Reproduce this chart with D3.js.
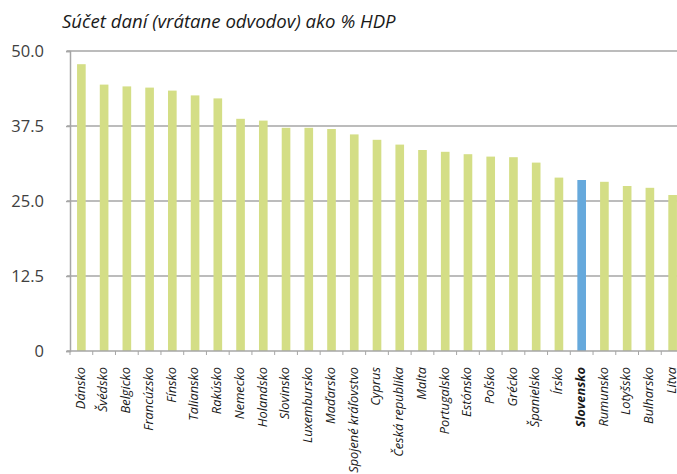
<!DOCTYPE html>
<html>
<head>
<meta charset="utf-8">
<script src="https://cdn.jsdelivr.net/npm/d3@7"></script>
<style>
  body { margin: 0; background: #fff; }
  svg { display: block; font-family: "Open Sans", sans-serif; }
</style>
</head>
<body>
<div id="chart"></div>
<script>
// Data
const countries = ["Dánsko", "Švédsko", "Belgicko", "Francúzsko", "Fínsko", "Taliansko", "Rakúsko",
    "Nemecko", "Holandsko", "Slovinsko", "Luxembursko", "Maďarsko", "Spojené kráľovstvo", "Cyprus",
    "Česká republika", "Malta", "Portugalsko", "Estónsko", "Poľsko", "Grécko", "Španielsko", "Írsko",
    "Slovensko", "Rumunsko", "Lotyšsko", "Bulharsko", "Litva"];
const values = [47.8, 44.4, 44.1, 43.9, 43.4, 42.6, 42.1, 38.7, 38.4, 37.2, 37.2, 37.0, 36.1, 35.2,
    34.4, 33.5, 33.2, 32.8, 32.4, 32.3, 31.4, 28.9, 28.5, 28.2, 27.5, 27.2, 26.0];
const highlight = "Slovensko";
const yTicks = [0, 12.5, 25, 37.5, 50];
const title = "Súčet daní (vrátane odvodov) ako % HDP";

const data = countries.map((c, i) => ({country: c, value: values[i]}));

// Margin convention
const margin = {top: 51, left: 70, right: -7, bottom: 123};
const width = 677 - margin.left - margin.right;
const height = 474 - margin.top - margin.bottom;

const svg = d3.select("#chart").append("svg")
    .attr("width", 677)
    .attr("height", 474);

svg.append("text")
    .attr("x", 62)
    .attr("y", 28)
    .attr("font-size", 18.6)
    .attr("font-style", "italic")
    .attr("fill", "#1a1a1a")
    .text(title);

const g = svg.append("g")
    .attr("transform", `translate(${margin.left},${margin.top})`);

// Scales
const xScale = d3.scaleBand()
    .domain(countries)
    .range([0, width])
    .paddingInner(0.62)
    .paddingOuter(0.31);

const yScale = d3.scaleLinear()
    .domain([0, 50])
    .range([height, 0]);

// Gridlines
g.append("g")
    .selectAll("line")
    .data(yTicks.filter(d => d > 0))
    .join("line")
    .attr("x1", -3)
    .attr("x2", width)
    .attr("y1", d => yScale(d))
    .attr("y2", d => yScale(d))
    .attr("stroke", "#a6a6a6")
    .attr("stroke-width", 1.5);

// Bars
g.append("g")
    .selectAll("rect")
    .data(data)
    .join("rect")
    .attr("x", d => xScale(d.country))
    .attr("y", d => yScale(d.value))
    .attr("width", xScale.bandwidth())
    .attr("height", d => height - yScale(d.value))
    .attr("fill", d => d.country === highlight ? "#66a9dc" : "#d4de86");

// Y axis
const yAxis = d3.axisLeft(yScale)
    .tickValues(yTicks)
    .tickSize(4)
    .tickFormat(d => d === 0 ? "0" : d3.format(".1f")(d));

g.append("g")
    .call(yAxis)
    .call(a => a.select(".domain").attr("stroke", "#a6a6a6").attr("stroke-width", 1.5))
    .call(a => a.selectAll(".tick line").attr("stroke", "#a6a6a6").attr("stroke-width", 1.5))
    .call(a => a.selectAll(".tick text")
        .attr("x", -26)
        .attr("font-size", 16.5)
        .attr("font-family", "Open Sans, sans-serif")
        .attr("fill", "#404040"));

// X axis: ticks at band boundaries
const xAxisGroup = g.append("g")
    .attr("transform", `translate(0,${height})`);

xAxisGroup.append("line")
    .attr("x1", -3)
    .attr("x2", width)
    .attr("stroke", "#a6a6a6")
    .attr("stroke-width", 1.5);

const step = xScale.step();
xAxisGroup.selectAll(".tk")
    .data(d3.range(countries.length + 1))
    .join("line")
    .attr("class", "tk")
    .attr("x1", i => i * step)
    .attr("x2", i => i * step)
    .attr("y1", 0)
    .attr("y2", 4)
    .attr("stroke", "#a6a6a6")
    .attr("stroke-width", 1);

xAxisGroup.selectAll(".lbl")
    .data(countries)
    .join("text")
    .attr("class", "lbl")
    .attr("transform", d => `translate(${xScale(d) + xScale.bandwidth() / 2 + 3.3},16) rotate(-90)`)
    .attr("text-anchor", "end")
    .attr("font-size", 12.8)
    .attr("font-style", "italic")
    .attr("font-weight", d => d === highlight ? "bold" : "normal")
    .attr("fill", "#1a1a1a")
    .text(d => d);
</script>
</body>
</html>
